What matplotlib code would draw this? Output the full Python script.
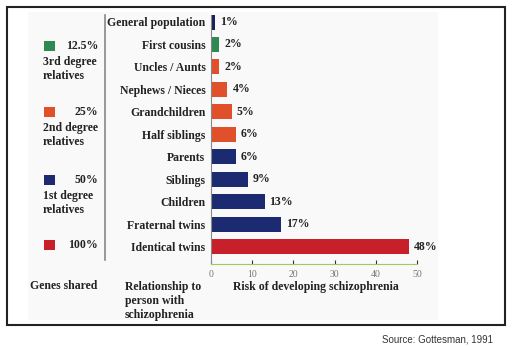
import matplotlib
matplotlib.use("Agg")
import matplotlib.pyplot as plt
from matplotlib.patches import Rectangle
from matplotlib.lines import Line2D

# data
relations = ["General population", "First cousins", "Uncles / Aunts", "Nephews / Nieces",
             "Grandchildren", "Half siblings", "Parents", "Siblings", "Children",
             "Fraternal twins", "Identical twins"]
risk = [1, 2, 2, 4, 5, 6, 6, 9, 13, 17, 48]
group = ["pop", "3rd", "2nd", "2nd", "2nd", "2nd", "1st", "1st", "1st", "1st", "100"]

legend_pct = ["12.5%", "25%", "50%", "100%"]
legend_desc = ["3rd degree\nrelatives", "2nd degree\nrelatives", "1st degree\nrelatives", ""]
legend_keys = ["3rd", "2nd", "1st", "100"]

colors = {"pop": "#1b1f5e", "3rd": "#2e8a50", "2nd": "#e0502a", "1st": "#1c2a72", "100": "#c8202a"}

serif = "Liberation Serif"
W, H = 514, 347

fig = plt.figure(figsize=(W / 100, H / 100), dpi=100)

def fx(px):
    return px / W

def fy(py):
    return 1 - py / H

# outer frame
fig.patches.append(Rectangle((fx(7), fy(325)), fx(498), 318 / H, transform=fig.transFigure,
                             fill=False, edgecolor="#222222", linewidth=1.5, zorder=5))
# faint pasted-image background
fig.patches.append(Rectangle((fx(28), fy(320)), fx(410), 308 / H, transform=fig.transFigure,
                             facecolor="#f9f9f9", edgecolor="none", zorder=-5))

ax = fig.add_axes([fx(211), fy(264), fx(206), 249 / H])
ax.set_facecolor("none")
ax.set_zorder(2)
y = list(range(len(relations)))
ax.barh(y, risk, height=0.67, color=[colors[g] for g in group], edgecolor="none")
ax.set_xlim(0, 50)
ax.set_ylim(10.76, -0.31)
ax.set_yticks(y)
ax.set_yticklabels(relations, fontfamily=serif, fontweight="bold", fontsize=8.5, color="#222222")
ax.tick_params(axis="y", length=0, pad=4)
ax.set_xticks([0, 10, 20, 30, 40, 50])
ax.tick_params(axis="x", direction="in", length=3, width=0.8, color="#333333",
               labelsize=7, labelcolor="#777777", pad=4)
for lab in ax.get_xticklabels():
    lab.set_fontfamily(serif)
for s in ["top", "right"]:
    ax.spines[s].set_visible(False)
ax.spines["left"].set_color("#888888")
ax.spines["bottom"].set_color("#9acd5a")
for yi, v in zip(y, risk):
    ax.text(v + 1.2, yi, f"{v}%", va="center", ha="left", fontfamily=serif,
            fontweight="bold", fontsize=8.5, color="#222222")

# separator line
fig.add_artist(Line2D([fx(105), fx(105)], [fy(15), fy(260)], color="#888888", linewidth=1.2))

# legend of genes shared
leg_y = [46, 112, 180, 245]
for k, pct, desc, py in zip(legend_keys, legend_pct, legend_desc, leg_y):
    fig.patches.append(Rectangle((fx(44), fy(py + 5)), fx(11), 10 / H, transform=fig.transFigure,
                                 facecolor=colors[k], edgecolor="none"))
    fig.text(fx(98), fy(py), pct, ha="right", va="center", fontfamily=serif,
             fontweight="bold", fontsize=8.5, color="#222222")
    if desc:
        fig.text(fx(43), fy(py + 10), desc, ha="left", va="top", fontfamily=serif,
                 fontweight="bold", fontsize=8.5, color="#222222", linespacing=1.2)

fig.text(fx(30), fy(286), "Genes shared", ha="left", va="center", fontfamily=serif,
         fontweight="bold", fontsize=8.5, color="#222222")
fig.text(fx(125), fy(281), "Relationship to\nperson with\nschizophrenia", ha="left", va="top",
         fontfamily=serif, fontweight="bold", fontsize=8.5, color="#222222", linespacing=1.2)
fig.text(fx(316), fy(287), "Risk of developing schizophrenia", ha="center", va="center",
         fontfamily=serif, fontweight="bold", fontsize=8.5, color="#222222")

fig.text(fx(493), fy(340), "Source: Gottesman, 1991", ha="right", va="center",
         fontfamily="Liberation Sans", fontsize=7, color="#333333")

fig.savefig("out.png", dpi=100)
